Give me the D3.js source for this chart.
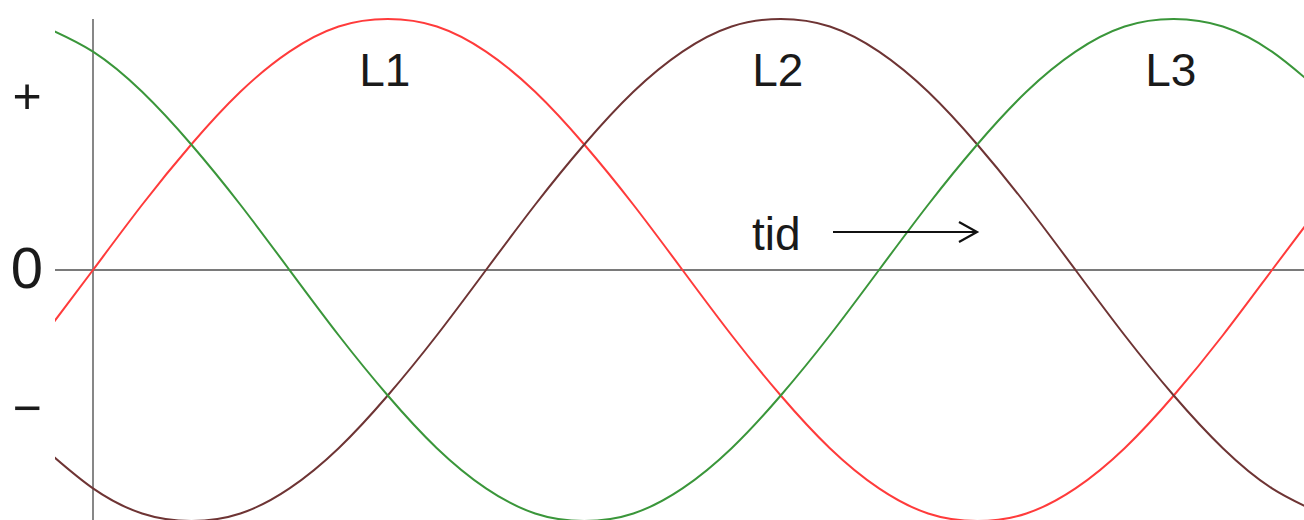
<!DOCTYPE html>
<html>
<head>
<meta charset="utf-8">
<script src="https://cdn.jsdelivr.net/npm/d3@7"></script>
<style>
  html, body { margin: 0; padding: 0; background: #fff; }
  svg { display: block; }
  text { font-family: "Liberation Sans", Arial, sans-serif; fill: #1a1a1a; }
</style>
</head>
<body>
<svg class="phases" width="1304" height="520"></svg>
<script>
// phase angle in degrees, sampled every 15 degrees
const phase = [-15, 0, 15, 30, 45, 60, 75, 90, 105, 120, 135, 150, 165, 180,
    195, 210, 225, 240, 255, 270, 285, 300, 315, 330, 345, 360, 375];

// relative voltage (+1 = peak, -1 = trough)
const l1 = [-0.26, 0, 0.26, 0.5, 0.71, 0.87, 0.97, 1, 0.97, 0.87, 0.71, 0.5, 0.26, 0,
    -0.26, -0.5, -0.71, -0.87, -0.97, -1, -0.97, -0.87, -0.71, -0.5, -0.26, 0, 0.26];
const l2 = [-0.71, -0.87, -0.97, -1, -0.97, -0.87, -0.71, -0.5, -0.26, 0, 0.26, 0.5, 0.71, 0.87,
    0.97, 1, 0.97, 0.87, 0.71, 0.5, 0.26, 0, -0.26, -0.5, -0.71, -0.87, -0.97];
const l3 = [0.97, 0.87, 0.71, 0.5, 0.26, 0, -0.26, -0.5, -0.71, -0.87, -0.97, -1, -0.97, -0.87,
    -0.71, -0.5, -0.26, 0, 0.26, 0.5, 0.71, 0.87, 0.97, 1, 0.97, 0.87, 0.71];

const seriesNames = ["L1", "L2", "L3"];
const seriesColors = ["#ff3b3b", "#6e3434", "#3a963a"];
const labelPhase = [90, 210, 330];

const yTickLabels = ["+", "0", "\u2212"];
const timeLabel = "tid";

const width = 1304;
const height = 520;
const left = 55;

const svg = d3.select("svg.phases");

const x = d3.scaleLinear()
    .domain([0, 360])
    .range([93, 1272]);

const y = d3.scaleLinear()
    .domain([-1, 1])
    .range([521, 19]);

svg.append("defs")
    .append("clipPath")
    .attr("id", "plotClip")
    .append("rect")
    .attr("x", left)
    .attr("y", 0)
    .attr("width", width - left)
    .attr("height", height);

// axes
let axes = svg.append("g").attr("class", "axes");

axes.append("line")
    .attr("x1", left)
    .attr("x2", width)
    .attr("y1", y(0))
    .attr("y2", y(0))
    .attr("stroke", "#7a7a7a")
    .attr("stroke-width", 1.8);

axes.append("line")
    .attr("x1", x(0))
    .attr("x2", x(0))
    .attr("y1", 19)
    .attr("y2", height)
    .attr("stroke", "#7a7a7a")
    .attr("stroke-width", 1.8);

// + / 0 / - markers on the left (baselines)
const tickY = [113, 288, 425];
const tickSize = [50, 58, 50];
axes.selectAll("text.tick")
    .data(yTickLabels)
    .join("text")
    .attr("class", "tick")
    .attr("x", 27)
    .attr("y", (d, i) => tickY[i])
    .attr("text-anchor", "middle")
    .attr("font-size", (d, i) => tickSize[i])
    .text((d) => d);

// the three phases
const line = d3.line()
    .curve(d3.curveNatural)
    .x((d) => x(d[0]))
    .y((d) => y(d[1]));

const seriesData = [l1, l2, l3];

svg.append("g")
    .attr("clip-path", "url(#plotClip)")
    .selectAll("path")
    .data(seriesData)
    .join("path")
    .attr("d", (vals) => line(phase.map((p, i) => [p, vals[i]])))
    .attr("fill", "none")
    .attr("stroke", (d, i) => seriesColors[i])
    .attr("stroke-width", 2);

// phase names under each peak
svg.selectAll("text.name")
    .data(seriesNames)
    .join("text")
    .attr("class", "name")
    .attr("x", (d, i) => x(labelPhase[i]) - 3)
    .attr("y", 86)
    .attr("text-anchor", "middle")
    .attr("font-size", 46)
    .text((d) => d);

// time arrow
let time = svg.append("g").attr("class", "time");

time.append("text")
    .attr("x", 752)
    .attr("y", 250)
    .attr("font-size", 46)
    .text(timeLabel);

time.append("line")
    .attr("x1", 833)
    .attr("x2", 977)
    .attr("y1", 232)
    .attr("y2", 232)
    .attr("stroke", "#111")
    .attr("stroke-width", 2.2);

time.append("path")
    .attr("d", "M959,222 L977,232 L959,242")
    .attr("fill", "none")
    .attr("stroke", "#111")
    .attr("stroke-width", 2.2);
</script>
</body>
</html>
